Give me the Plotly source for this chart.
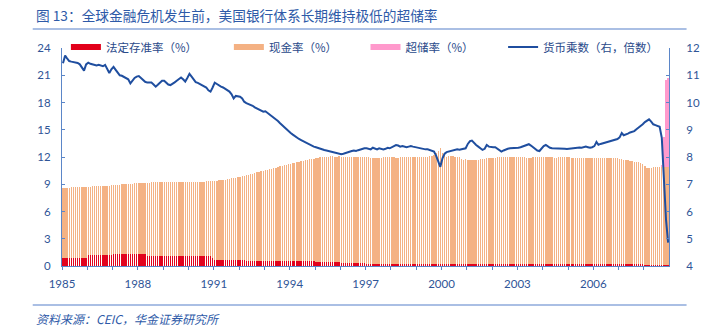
import plotly.graph_objects as go
import pandas as pd

years = list(range(1985, 2009))

# 法定存准率 (%) — monthly, one row per year
reserve_req = [
    [0.90, 0.90, 0.90, 0.90, 0.90, 0.90, 0.90, 0.90, 0.90, 0.90, 0.90, 0.90],
    [1.25, 1.25, 1.25, 1.25, 1.25, 1.25, 1.25, 1.25, 1.25, 1.25, 1.25, 1.25],
    [1.30, 1.30, 1.30, 1.30, 1.30, 1.30, 1.30, 1.30, 1.30, 1.30, 1.30, 1.30],
    [1.30, 1.30, 1.30, 1.30, 1.15, 1.15, 1.15, 1.15, 1.15, 1.15, 1.15, 1.15],
    [1.12, 1.12, 1.12, 1.12, 1.12, 1.12, 1.12, 1.12, 1.12, 1.12, 1.12, 1.12],
    [1.10, 1.10, 1.10, 1.10, 1.10, 1.10, 1.10, 1.10, 1.10, 1.10, 1.10, 0.85],
    [0.62, 0.62, 0.62, 0.62, 0.62, 0.62, 0.62, 0.62, 0.62, 0.62, 0.62, 0.62],
    [0.62, 0.62, 0.62, 0.52, 0.52, 0.52, 0.52, 0.52, 0.52, 0.52, 0.52, 0.52],
    [0.52, 0.52, 0.52, 0.52, 0.52, 0.52, 0.52, 0.52, 0.52, 0.52, 0.52, 0.52],
    [0.50, 0.50, 0.50, 0.50, 0.50, 0.50, 0.50, 0.50, 0.50, 0.50, 0.50, 0.50],
    [0.45, 0.45, 0.45, 0.45, 0.45, 0.45, 0.40, 0.40, 0.40, 0.40, 0.40, 0.40],
    [0.35, 0.35, 0.35, 0.35, 0.35, 0.35, 0.30, 0.30, 0.30, 0.30, 0.30, 0.30],
    [0.27, 0.27, 0.27, 0.27, 0.27, 0.27, 0.27, 0.27, 0.27, 0.27, 0.27, 0.27],
    [0.24, 0.24, 0.24, 0.24, 0.24, 0.24, 0.24, 0.24, 0.24, 0.24, 0.24, 0.24],
    [0.22, 0.22, 0.22, 0.22, 0.22, 0.22, 0.22, 0.22, 0.22, 0.22, 0.22, 0.22],
    [0.20, 0.20, 0.20, 0.20, 0.20, 0.20, 0.20, 0.20, 0.20, 0.20, 0.20, 0.20],
    [0.20, 0.20, 0.20, 0.20, 0.20, 0.20, 0.20, 0.20, 0.20, 0.20, 0.20, 0.20],
    [0.20, 0.20, 0.20, 0.20, 0.20, 0.20, 0.20, 0.20, 0.20, 0.20, 0.20, 0.20],
    [0.20, 0.20, 0.20, 0.20, 0.20, 0.20, 0.20, 0.20, 0.20, 0.20, 0.20, 0.20],
    [0.19, 0.19, 0.19, 0.19, 0.19, 0.19, 0.19, 0.19, 0.19, 0.19, 0.19, 0.19],
    [0.18, 0.18, 0.18, 0.18, 0.18, 0.18, 0.18, 0.18, 0.18, 0.18, 0.18, 0.18],
    [0.18, 0.18, 0.18, 0.18, 0.18, 0.18, 0.18, 0.18, 0.18, 0.18, 0.18, 0.18],
    [0.17, 0.17, 0.17, 0.17, 0.17, 0.17, 0.17, 0.17, 0.17, 0.17, 0.17, 0.17],
    [0.16, 0.16, 0.16, 0.16, 0.16, 0.16, 0.16, 0.16, 0.16, 0.16, 0.16, 0.16],
]

# 现金率 (%) — monthly, one row per year (stacked above 法定存准率)
cash_ratio = [
    [7.70, 7.72, 7.72, 7.74, 7.75, 7.76, 7.78, 7.78, 7.80, 7.80, 7.82, 7.85],
    [7.49, 7.49, 7.51, 7.53, 7.53, 7.55, 7.55, 7.57, 7.59, 7.59, 7.61, 7.65],
    [7.60, 7.62, 7.64, 7.66, 7.68, 7.70, 7.72, 7.74, 7.75, 7.78, 7.80, 7.82],
    [7.80, 7.82, 7.84, 7.85, 8.01, 8.03, 8.05, 8.05, 8.07, 8.07, 8.09, 8.10],
    [8.13, 8.12, 8.10, 8.10, 8.08, 8.08, 8.10, 8.12, 8.13, 8.14, 8.16, 8.18],
    [8.20, 8.18, 8.16, 8.15, 8.16, 8.18, 8.20, 8.20, 8.22, 8.24, 8.26, 8.55],
    [8.73, 8.76, 8.80, 8.83, 8.86, 8.90, 8.94, 8.98, 9.02, 9.06, 9.10, 9.16],
    [9.20, 9.26, 9.32, 9.48, 9.54, 9.60, 9.66, 9.72, 9.78, 9.84, 9.90, 9.96],
    [10.02, 10.08, 10.14, 10.20, 10.26, 10.32, 10.38, 10.44, 10.50, 10.56, 10.62, 10.68],
    [10.76, 10.82, 10.88, 10.94, 11.00, 11.05, 11.10, 11.15, 11.20, 11.24, 11.28, 11.32],
    [11.40, 11.45, 11.50, 11.55, 11.57, 11.59, 11.65, 11.66, 11.66, 11.65, 11.65, 11.66],
    [11.69, 11.67, 11.65, 11.65, 11.63, 11.63, 11.66, 11.66, 11.65, 11.66, 11.68, 11.70],
    [11.71, 11.69, 11.67, 11.67, 11.65, 11.65, 11.67, 11.67, 11.69, 11.69, 11.71, 11.71],
    [11.72, 11.72, 11.70, 11.70, 11.71, 11.72, 11.72, 11.74, 11.74, 11.76, 11.76, 11.78],
    [11.78, 11.76, 11.76, 11.78, 11.80, 11.82, 11.84, 11.88, 11.98, 12.18, 12.48, 12.78],
    [12.20, 11.90, 11.85, 11.88, 11.90, 11.88, 11.85, 11.80, 11.75, 11.60, 11.52, 11.55],
    [11.50, 11.48, 11.46, 11.48, 11.50, 11.52, 11.54, 11.56, 11.60, 11.64, 11.68, 11.70],
    [11.72, 11.74, 11.76, 11.78, 11.80, 11.80, 11.78, 11.76, 11.76, 11.78, 11.80, 11.82],
    [11.82, 11.80, 11.78, 11.76, 11.74, 11.72, 11.74, 11.76, 11.78, 11.80, 11.82, 11.84],
    [11.83, 11.81, 11.79, 11.77, 11.76, 11.75, 11.75, 11.76, 11.77, 11.77, 11.78, 11.79],
    [11.78, 11.76, 11.76, 11.75, 11.74, 11.74, 11.74, 11.74, 11.74, 11.74, 11.72, 11.72],
    [11.72, 11.72, 11.71, 11.70, 11.70, 11.69, 11.68, 11.68, 11.67, 11.67, 11.66, 11.66],
    [11.63, 11.59, 11.55, 11.51, 11.47, 11.43, 11.38, 11.33, 11.28, 11.23, 11.15, 11.08],
    [10.84, 10.64, 10.59, 10.64, 10.69, 10.74, 10.76, 10.78, 10.79, 10.76, 10.74, 10.74],
]

# 超储率 (%) — monthly, one row per year (stacked on top)
excess_ratio = [
    [0, 0, 0, 0, 0, 0, 0, 0, 0, 0, 0, 0],
    [0, 0, 0, 0, 0, 0, 0, 0, 0, 0, 0, 0],
    [0, 0, 0, 0, 0, 0, 0, 0, 0, 0, 0, 0],
    [0, 0, 0, 0, 0, 0, 0, 0, 0, 0, 0, 0],
    [0, 0, 0, 0, 0, 0, 0, 0, 0, 0, 0, 0],
    [0, 0, 0, 0, 0, 0, 0, 0, 0, 0, 0, 0],
    [0, 0, 0, 0, 0, 0, 0, 0, 0, 0, 0, 0],
    [0, 0, 0, 0, 0, 0, 0, 0, 0, 0, 0, 0],
    [0, 0, 0, 0, 0, 0, 0, 0, 0, 0, 0, 0],
    [0, 0, 0, 0, 0, 0, 0, 0, 0, 0, 0, 0],
    [0, 0, 0, 0, 0, 0, 0, 0, 0, 0, 0, 0],
    [0, 0, 0, 0, 0, 0, 0, 0, 0, 0, 0, 0],
    [0, 0, 0, 0, 0, 0, 0, 0, 0, 0, 0, 0],
    [0, 0, 0, 0, 0, 0, 0, 0, 0, 0, 0, 0],
    [0, 0, 0, 0, 0, 0, 0, 0, 0, 0, 0, 0],
    [0, 0, 0, 0, 0, 0, 0, 0, 0, 0, 0, 0],
    [0, 0, 0, 0, 0, 0, 0, 0, 0, 0, 0, 0],
    [0, 0, 0, 0, 0, 0, 0, 0, 0, 0, 0, 0],
    [0, 0, 0, 0, 0, 0, 0, 0, 0, 0, 0, 0],
    [0, 0, 0, 0, 0, 0, 0, 0, 0, 0, 0, 0],
    [0, 0, 0, 0, 0, 0, 0, 0, 0, 0, 0, 0],
    [0, 0, 0, 0, 0, 0, 0, 0, 0, 0, 0, 0],
    [0, 0, 0, 0, 0, 0, 0, 0, 0, 0, 0, 0],
    [0, 0, 0, 0, 0, 0, 0, 0, 0.2, 3.3, 9.6, 9.8],
]

# 货币乘数 (右轴, 倍数) — monthly, one row per year
multiplier = [
    [11.44, 11.72, 11.62, 11.52, 11.50, 11.48, 11.46, 11.45, 11.40, 11.30, 11.17, 11.40],
    [11.46, 11.42, 11.40, 11.38, 11.36, 11.38, 11.36, 11.33, 11.38, 11.20, 11.08, 11.22],
    [11.31, 11.20, 11.08, 11.00, 10.98, 10.94, 10.92, 10.85, 10.70, 10.82, 10.90, 10.95],
    [10.97, 10.90, 10.82, 10.76, 10.73, 10.74, 10.73, 10.66, 10.58, 10.65, 10.74, 10.80],
    [10.80, 10.72, 10.66, 10.64, 10.68, 10.74, 10.80, 10.86, 10.92, 10.85, 10.77, 10.90],
    [11.05, 10.95, 10.85, 10.75, 10.72, 10.68, 10.62, 10.58, 10.55, 10.45, 10.40, 10.55],
    [10.73, 10.68, 10.62, 10.58, 10.55, 10.50, 10.46, 10.40, 10.30, 10.15, 10.24, 10.22],
    [10.21, 10.15, 10.03, 9.98, 9.95, 9.92, 9.88, 9.82, 9.78, 9.74, 9.70, 9.66],
    [9.68, 9.62, 9.58, 9.50, 9.44, 9.38, 9.32, 9.24, 9.16, 9.08, 9.00, 8.94],
    [8.88, 8.82, 8.76, 8.72, 8.66, 8.62, 8.58, 8.52, 8.48, 8.44, 8.40, 8.38],
    [8.36, 8.33, 8.30, 8.28, 8.26, 8.24, 8.22, 8.20, 8.18, 8.16, 8.14, 8.12],
    [8.10, 8.12, 8.15, 8.18, 8.20, 8.22, 8.24, 8.22, 8.25, 8.28, 8.30, 8.32],
    [8.32, 8.30, 8.28, 8.34, 8.30, 8.28, 8.32, 8.30, 8.28, 8.30, 8.34, 8.32],
    [8.36, 8.40, 8.44, 8.42, 8.38, 8.40, 8.38, 8.36, 8.38, 8.40, 8.38, 8.36],
    [8.36, 8.34, 8.32, 8.30, 8.28, 8.28, 8.26, 8.22, 8.20, 8.05, 7.85, 7.64],
    [7.95, 8.12, 8.18, 8.20, 8.22, 8.26, 8.28, 8.28, 8.27, 8.28, 8.30, 8.32],
    [8.48, 8.58, 8.60, 8.50, 8.44, 8.38, 8.32, 8.26, 8.30, 8.44, 8.38, 8.36],
    [8.36, 8.36, 8.30, 8.24, 8.20, 8.24, 8.28, 8.30, 8.32, 8.32, 8.34, 8.34],
    [8.34, 8.36, 8.38, 8.40, 8.44, 8.47, 8.42, 8.36, 8.30, 8.24, 8.22, 8.30],
    [8.40, 8.44, 8.38, 8.34, 8.32, 8.32, 8.30, 8.32, 8.32, 8.30, 8.30, 8.29],
    [8.30, 8.31, 8.33, 8.34, 8.36, 8.35, 8.34, 8.36, 8.38, 8.36, 8.34, 8.36],
    [8.40, 8.55, 8.45, 8.48, 8.50, 8.52, 8.55, 8.58, 8.60, 8.62, 8.62, 8.66],
    [8.72, 8.88, 8.80, 8.82, 8.86, 8.90, 8.93, 8.95, 9.02, 9.08, 9.12, 9.20],
    [9.28, 9.33, 9.38, 9.30, 9.20, 9.17, 9.14, 9.11, 8.70, 7.00, 5.70, 4.86],
]

series_names = ["法定存准率（%）", "现金率（%）", "超储率（%）", "货币乘数（右，倍数）"]
title_text = "图 13：全球金融危机发生前，美国银行体系长期维持极低的超储率"
source_text = "资料来源：CEIC，华金证券研究所"


def flat(rows):
    return [v for row in rows for v in row]


months = pd.date_range(f"{years[0]}-01-01", periods=len(years) * 12, freq="MS") + pd.Timedelta(days=14)

RED = "#E2001A"
ORANGE = "#F4B183"
PINK = "#FF99CC"
# bar fills: very slightly translucent so plotly rounds thin bars to whole pixels (striped look)
RED_FILL = "rgba(226,0,26,0.99)"
ORANGE_FILL = "rgba(244,177,131,0.99)"
PINK_FILL = "rgba(255,153,204,0.99)"
BLUE = "#1F4E9F"
AXIS = "#5B86C8"
TICK = "#2F5597"
TEXT = "#2A4A8A"
CJK = "Noto Sans CJK SC"
NUM = "Lato"

fig = go.Figure()
for name, rows, color in [
    (series_names[0], reserve_req, RED_FILL),
    (series_names[1], cash_ratio, ORANGE_FILL),
    (series_names[2], excess_ratio, PINK_FILL),
]:
    fig.add_trace(go.Bar(x=months, y=flat(rows), name=name, marker=dict(color=color, line=dict(width=0)),
                         showlegend=False, hoverinfo="skip"))

fig.add_trace(go.Scatter(x=months, y=flat(multiplier), name=series_names[3], mode="lines",
                         line=dict(color=BLUE, width=2), yaxis="y2", legend="legend4"))

# legend swatches for the bar series (wide flat bars like the original)
for i, (name, color) in enumerate(zip(series_names[:3], [RED, ORANGE, PINK])):
    fig.add_trace(go.Scatter(x=[None], y=[None], mode="lines", name=name,
                             line=dict(color=color, width=6),
                             legend=["legend", "legend2", "legend3"][i]))

# paper-coordinate helpers for the fixed plot rectangle
L, R, T, B = 62, 684, 48, 266
def px(x):
    return (x - L) / (R - L)
def py(y):
    return (B - y) / (B - T)

leg_common = dict(orientation="h", yanchor="middle", y=py(47), xanchor="left",
                  bgcolor="rgba(0,0,0,0)", borderwidth=0,
                  font=dict(family=CJK, size=11.5, color=TEXT))
layout_legends = {}
for key, sx in zip(["legend", "legend2", "legend3", "legend4"], [70, 237, 377, 518]):
    layout_legends[key] = dict(leg_common, x=px(sx - 4))

fig.update_layout(
    width=712, height=328,
    margin=dict(l=L, r=712 - R, t=T, b=328 - B),
    paper_bgcolor="white", plot_bgcolor="white",
    barmode="stack", bargap=0.3,
    font=dict(family=NUM, size=12, color=TICK),
    xaxis=dict(type="date", range=["1985-01-01", "2008-12-28"], tick0="1985-01-01", dtick="M36",
               tickformat="%Y", ticks="outside", ticklen=3, tickcolor=AXIS,
               minor=dict(dtick="M12", ticks="outside", ticklen=3, tickcolor=AXIS),
               showline=True, linecolor=AXIS, linewidth=1, showgrid=False, zeroline=False,
               ticklabelstandoff=4, tickfont=dict(family=NUM, size=11.5, color=TICK)),
    yaxis=dict(range=[0, 24], dtick=3, ticks="inside", ticklen=3, tickcolor=AXIS,
               showline=True, linecolor=AXIS, linewidth=1, showgrid=False, zeroline=False,
               ticklabelstandoff=8, tickfont=dict(family=NUM, size=11.5, color=TICK)),
    yaxis2=dict(range=[4, 12], dtick=1, overlaying="y", side="right", ticks="inside", ticklen=3,
                tickcolor=AXIS, showline=True, linecolor=AXIS, linewidth=1, showgrid=False,
                zeroline=False, ticklabelstandoff=14, tickfont=dict(family=NUM, size=11.5, color=TICK)),
    **layout_legends,
)

fig.add_annotation(text=title_text, xref="paper", yref="paper", x=px(33), y=py(15),
                   xanchor="left", yanchor="middle", showarrow=False,
                   font=dict(family=CJK, size=13.7, color="#2E5AA8"))
fig.add_annotation(text=source_text, xref="paper", yref="paper", x=px(33), y=py(318),
                   xanchor="left", yanchor="middle", showarrow=False,
                   font=dict(family=CJK, size=12, color="#2E5AA8", style="italic"))
fig.add_shape(type="line", xref="paper", yref="paper", x0=px(32), x1=px(702), y0=py(29), y1=py(29),
              line=dict(color="#8EAADB", width=1.5))
fig.add_shape(type="line", xref="paper", yref="paper", x0=px(32), x1=px(702), y0=py(305), y1=py(305),
              line=dict(color="#8EAADB", width=1.5))

fig.write_html("out.html")
